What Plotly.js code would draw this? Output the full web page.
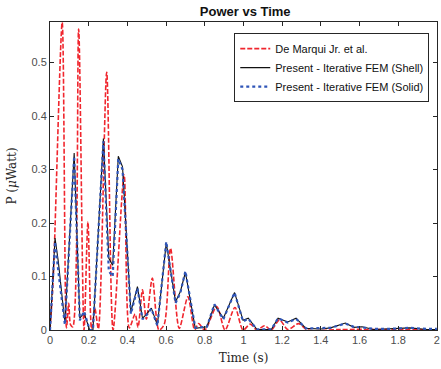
<!DOCTYPE html>
<html>
<head>
<meta charset="utf-8">
<script src="https://cdn.plot.ly/plotly-3.0.1.min.js"></script>
<style>html,body{margin:0;padding:0;background:#fff;}#chart{width:441px;height:369px;}</style>
</head>
<body>
<div id="chart"></div>
<script>
// De Marqui Jr. et al. (reference)
var tRef = [0, 0.017, 0.063, 0.085, 0.097, 0.106, 0.118, 0.148, 0.176, 0.196, 0.215, 0.232, 0.25, 0.293, 0.326, 0.383, 0.41, 0.44, 0.455, 0.478, 0.498, 0.529, 0.563, 0.59, 0.623, 0.668, 0.713, 0.748, 0.768, 0.80, 0.862, 0.905, 0.956, 0.998, 1.035, 1.07, 1.109, 1.144, 1.186, 1.229, 1.285, 1.33, 1.5, 1.7, 2.0];
var pRef = [0, 0.10, 0.575, 0.004, 0.05, 0.01, 0.006, 0.563, 0, 0.202, 0.002, 0.04, 0.002, 0.482, 0, 0.29, 0.004, 0.03, 0.005, 0.075, 0.02, 0.097, 0, 0.01, 0.153, 0.003, 0.062, 0, 0.012, 0, 0.044, 0, 0.042, 0, 0.011, 0, 0.008, 0, 0.019, 0.001, 0.012, 0, 0.001, 0.001, 0];

// Present - Iterative FEM (Shell)
var tShell = [0, 0.026, 0.043, 0.077, 0.125, 0.154, 0.176, 0.205, 0.222, 0.276, 0.304, 0.324, 0.353, 0.375, 0.418, 0.452, 0.478, 0.495, 0.524, 0.555, 0.601, 0.649, 0.674, 0.700, 0.751, 0.811, 0.850, 0.896, 0.954, 0.998, 1.025, 1.07, 1.144, 1.179, 1.229, 1.272, 1.323, 1.40, 1.45, 1.527, 1.57, 1.613, 1.673, 1.75, 1.86, 1.95, 2.0];
var pShell = [0, 0.172, 0.128, 0.013, 0.331, 0.022, 0.032, 0.0, 0.0, 0.358, 0.134, 0.121, 0.325, 0.305, 0.034, 0.081, 0.022, 0.028, 0.041, 0.009, 0.163, 0.053, 0.072, 0.108, 0.003, 0.006, 0.047, 0.022, 0.07, 0.018, 0.022, 0.001, 0.001, 0.022, 0.015, 0.022, 0.003, 0.002, 0.004, 0.013, 0.005, 0.006, 0.001, 0.002, 0.004, 0.001, 0.001];

// Present - Iterative FEM (Solid)
var tSolid = tShell;
var pSolid = [0, 0.165, 0.11, 0.01, 0.325, 0.018, 0.035, 0.0, 0.0, 0.353, 0.11, 0.10, 0.32, 0.30, 0.03, 0.078, 0.02, 0.026, 0.04, 0.008, 0.165, 0.05, 0.07, 0.11, 0.004, 0.006, 0.048, 0.02, 0.07, 0.016, 0.021, 0.001, 0.001, 0.022, 0.014, 0.021, 0.003, 0.003, 0.004, 0.012, 0.006, 0.005, 0.002, 0.002, 0.004, 0.002, 0.002];

var xTicks = [0, 0.2, 0.4, 0.6, 0.8, 1, 1.2, 1.4, 1.6, 1.8, 2];
var xTickText = ['0', '0.2', '0.4', '0.6', '0.8', '1', '1.2', '1.4', '1.6', '1.8', '2'];
var yTicks = [0, 0.1, 0.2, 0.3, 0.4, 0.5];
var yTickText = ['0', '0.1', '0.2', '0.3', '0.4', '0.5'];

var traces = [
  {x: tRef, y: pRef, type: 'scatter', mode: 'lines', name: 'De Marqui Jr. et al.',
   line: {color: '#f0262e', width: 1.6, dash: '5px,2px', shape: 'spline', smoothing: 0.8}},
  {x: tShell, y: pShell, type: 'scatter', mode: 'lines', name: 'Present - Iterative FEM (Shell)',
   line: {color: '#111111', width: 1.1}},
  {x: tSolid, y: pSolid, type: 'scatter', mode: 'lines', name: 'Present - Iterative FEM (Solid)',
   line: {color: '#2f55b8', width: 2.2, dash: 'dot'}}
];

var axisCommon = {
  showgrid: false, zeroline: false, showline: true, linecolor: '#262626', linewidth: 1,
  mirror: 'ticks', ticks: 'inside', ticklen: 4, tickcolor: '#262626',
  ticklabeloverflow: 'allow',
  tickfont: {family: 'Liberation Sans, Arial, sans-serif', size: 11, color: '#4d4d4d'}
};

var layout = {
  width: 441, height: 369,
  margin: {l: 50, r: 4, t: 22, b: 39},
  paper_bgcolor: '#ffffff', plot_bgcolor: '#ffffff',
  title: {text: '<b>Power vs Time</b>', x: 0.556, xanchor: 'center', y: 0.968, yanchor: 'middle',
          font: {family: 'Liberation Sans, Arial, sans-serif', size: 13, color: '#111111'}},
  xaxis: Object.assign({}, axisCommon, {
    range: [0, 2.0005], tickvals: xTicks, ticktext: xTickText,
    title: {text: 'Time (s)', standoff: 8, font: {family: 'DejaVu Serif, serif', size: 12, color: '#262626'}}
  }),
  yaxis: Object.assign({}, axisCommon, {
    range: [0, 0.576], tickvals: yTicks, ticktext: yTickText,
    title: {text: 'P (<i>μ</i>Watt)', standoff: 12, font: {family: 'DejaVu Serif, serif', size: 12, color: '#262626'}}
  }),
  showlegend: true,
  legend: {x: 0.98, xanchor: 'right', y: 0.964, yanchor: 'top',
           bgcolor: '#ffffff', bordercolor: '#262626', borderwidth: 1,
           font: {family: 'Liberation Sans, Arial, sans-serif', size: 11, color: '#111111'},
           tracegroupgap: 0, itemwidth: 30}
};

Plotly.newPlot('chart', traces, layout, {displayModeBar: false, staticPlot: true});
</script>
</body>
</html>
